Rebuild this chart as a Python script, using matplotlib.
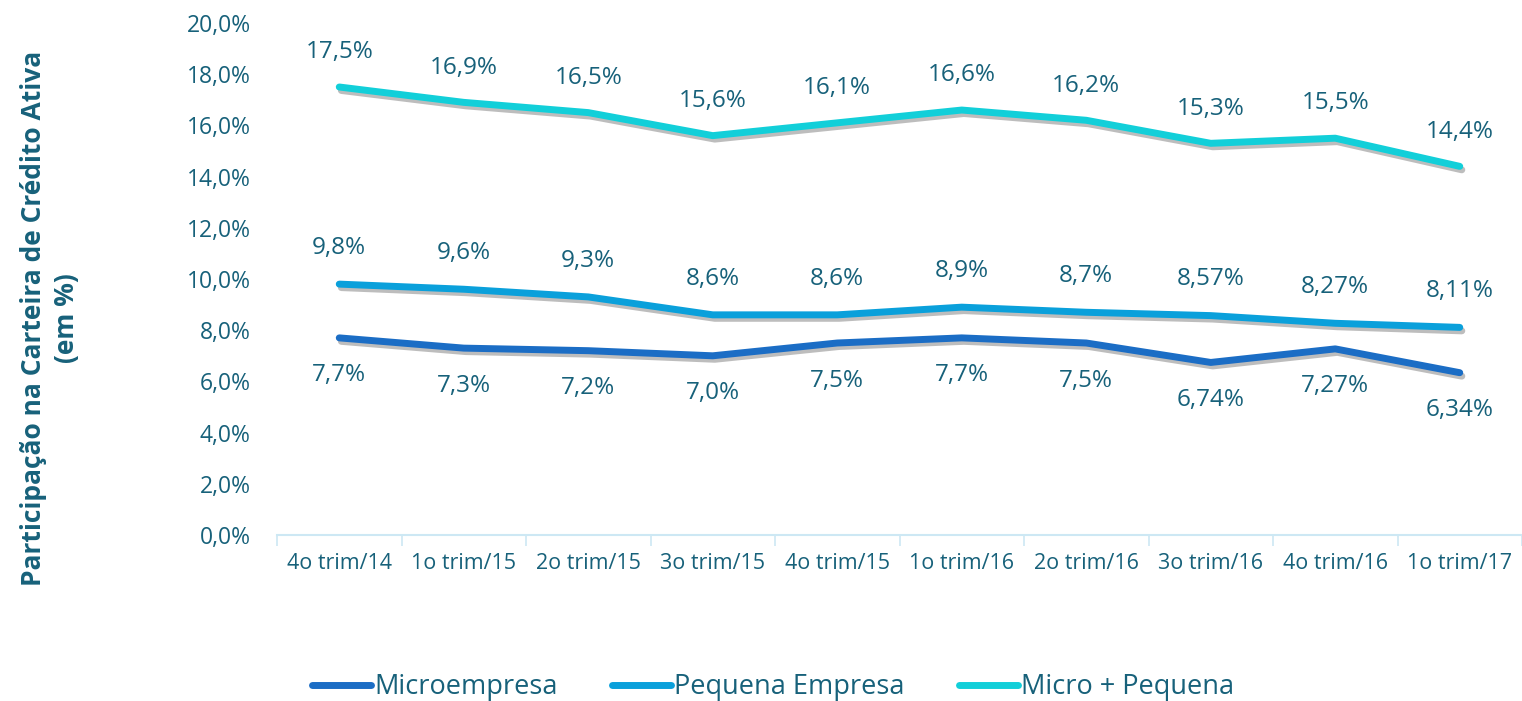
import matplotlib
matplotlib.use("Agg")
import matplotlib.pyplot as plt
import matplotlib.patheffects as pe
from matplotlib.lines import Line2D

categories = ["4o trim/14", "1o trim/15", "2o trim/15", "3o trim/15", "4o trim/15",
              "1o trim/16", "2o trim/16", "3o trim/16", "4o trim/16", "1o trim/17"]
micro = [7.7, 7.3, 7.2, 7.0, 7.5, 7.7, 7.5, 6.74, 7.27, 6.34]
pequena = [9.8, 9.6, 9.3, 8.6, 8.6, 8.9, 8.7, 8.57, 8.27, 8.11]
micro_peq = [17.5, 16.9, 16.5, 15.6, 16.1, 16.6, 16.2, 15.3, 15.5, 14.4]
micro_lbl = ["7,7%", "7,3%", "7,2%", "7,0%", "7,5%", "7,7%", "7,5%", "6,74%", "7,27%", "6,34%"]
pequena_lbl = ["9,8%", "9,6%", "9,3%", "8,6%", "8,6%", "8,9%", "8,7%", "8,57%", "8,27%", "8,11%"]
micro_peq_lbl = ["17,5%", "16,9%", "16,5%", "15,6%", "16,1%", "16,6%", "16,2%", "15,3%", "15,5%", "14,4%"]
yticks = [0, 2, 4, 6, 8, 10, 12, 14, 16, 18, 20]
ytick_lbl = ["0,0%", "2,0%", "4,0%", "6,0%", "8,0%", "10,0%", "12,0%", "14,0%", "16,0%", "18,0%", "20,0%"]

plt.rcParams['font.family'] = ['Open Sans', 'DejaVu Sans']
TXT = "#17617A"
C_MICRO = "#1B6DC5"
C_PEQ = "#0AA0DB"
C_MP = "#12CFD9"

fig = plt.figure(figsize=(15.22, 7.01), dpi=100)
ax = fig.add_axes([277/1522, 166/701, 1.0 - 277/1522, (678-166)/701])

x = list(range(len(categories)))
shadow = [pe.SimpleLineShadow(offset=(1.5, -2.5), shadow_color="#444444", alpha=0.35, rho=1.0),
          pe.Normal()]

series = [(micro, micro_lbl, C_MICRO, "Microempresa", -27),
          (pequena, pequena_lbl, C_PEQ, "Pequena Empresa", 26),
          (micro_peq, micro_peq_lbl, C_MP, "Micro + Pequena", 25)]

for vals, lbls, col, name, off in series:
    ax.plot(x, vals, color=col, lw=5, solid_capstyle="round", solid_joinstyle="round",
            path_effects=shadow, zorder=3)
    for xi, v, l in zip(x, vals, lbls):
        ax.annotate(l, (xi, v), xytext=(0, off), textcoords="offset points",
                    ha="center", va="center", fontsize=17.5, color=TXT)

ax.set_xlim(-0.5, len(categories) - 0.5)
ax.set_ylim(0, 20)
ax.set_yticks(yticks)
ax.set_yticklabels(ytick_lbl, fontsize=16.5, color=TXT)
ax.set_xticks(x)
ax.set_xticklabels(categories, fontsize=15.5, color=TXT)
ax.set_xticks([i + 0.5 for i in range(-1, len(categories))], minor=True)
ax.tick_params(axis="x", which="major", length=0, pad=13)
ax.tick_params(axis="x", which="minor", length=8, color="#CDE8F4", width=1.2)
ax.tick_params(axis="y", length=0, pad=19)
for s in ["top", "right", "left"]:
    ax.spines[s].set_visible(False)
ax.spines["bottom"].set_color("#CDE8F4")
ax.spines["bottom"].set_linewidth(1.5)

fig.text(50/1522, 1 - 318/701, "Participação na Carteira de Crédito Ativa\n(em %)",
         rotation=90, ha="center", va="center", fontsize=19, fontweight="bold",
         color=TXT, linespacing=1.25)

handles = [Line2D([0], [0], color=c, lw=5, solid_capstyle="round") for c in (C_MICRO, C_PEQ, C_MP)]
fig.legend(handles, ["Microempresa", "Pequena Empresa", "Micro + Pequena"],
           loc="center", bbox_to_anchor=(773/1522, 1 - 687/701), ncol=3, frameon=False,
           fontsize=19.5, handlelength=2.2, handletextpad=0.1, columnspacing=2.0,
           labelcolor=TXT)

fig.savefig("out.png", dpi=100)
